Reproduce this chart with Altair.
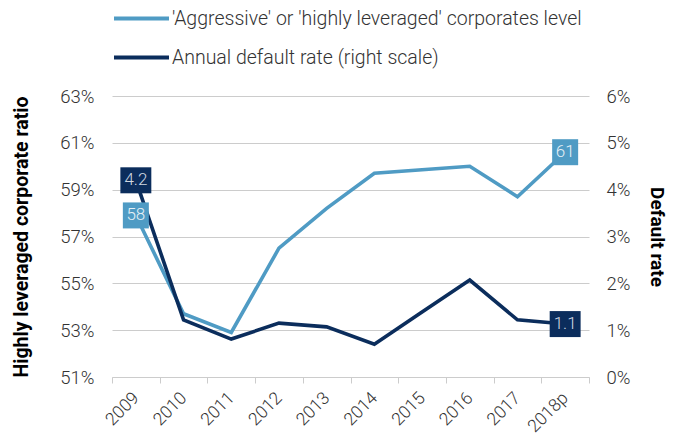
import altair as alt
import pandas as pd

years = ["2009", "2010", "2011", "2012", "2013", "2014", "2015", "2016", "2017", "2018p"]
aggressive = [57.9, 53.7, 52.9, 56.5, 58.2, 59.7, 59.85, 60.0, 58.7, 60.6]
default_rate = [4.2, 1.22, 0.81, 1.15, 1.07, 0.7, 1.39, 2.07, 1.22, 1.13]
series_names = ["'Aggressive' or 'highly leveraged' corporates level",
                "Annual default rate (right scale)"]
colors = ["#4f9bc4", "#0b2d5c"]
left_labels = ["58", "61"]
right_labels = ["4.2", "1.1"]

FONT = "Roboto"
LBL = 18.5

df_l = pd.DataFrame({"year": years, "value": aggressive, "series": series_names[0]})
df_r = pd.DataFrame({"year": years, "value": default_rate, "series": series_names[1]})
lab_l = pd.DataFrame({"year": [years[0], years[-1]], "value": [aggressive[0], aggressive[-1]], "label": left_labels})
lab_r = pd.DataFrame({"year": [years[0], years[-1]], "value": [default_rate[0], default_rate[-1]], "label": right_labels})

x_axis = alt.Axis(title=None, labelAngle=-45, labelAlign="right", labelBaseline="middle",
                  tickBand="extent", tickSize=6, tickColor="#cccccc", domainColor="#cccccc",
                  labelPadding=12, labelFontSize=17.5, labelColor="#333333", labelFont=FONT,
                  labelFontWeight=300, grid=False)
xenc = alt.X("year:N", sort=years, scale=alt.Scale(type="band", paddingInner=0, paddingOuter=0), axis=x_axis)

yl_scale = alt.Scale(domain=[51, 63], nice=False, zero=False)
yr_scale = alt.Scale(domain=[0, 6], nice=False, zero=False)

color = alt.Color("series:N", scale=alt.Scale(domain=series_names, range=colors),
                  legend=alt.Legend(title=None, orient="none", legendX=0, legendY=-107, direction="vertical",
                                    symbolType="stroke", symbolSize=3025, symbolStrokeWidth=4,
                                    labelFontSize=19.5, labelFont=FONT, labelFontWeight=300, labelColor="#333333",
                                    rowPadding=-5, labelOffset=1, labelLimit=600))

line_l = alt.Chart(df_l).mark_line(strokeWidth=3.6).encode(
    x=xenc,
    y=alt.Y("value:Q", scale=yl_scale,
            axis=alt.Axis(title="Highly leveraged corporate ratio", orient="left", values=[51, 53, 55, 57, 59, 61, 63],
                          labelExpr="datum.value + '%'", domain=False, ticks=False, labelPadding=18,
                          grid=True, gridColor="#cccccc", labelFontSize=LBL, labelFont=FONT, labelFontWeight=300,
                          labelColor="#333333", titleFont=FONT, titleFontSize=19.5, titleFontWeight="bold",
                          titleColor="#000000", titlePadding=28)),
    color=color,
)

line_r = alt.Chart(df_r).mark_line(strokeWidth=3.6).encode(
    x=xenc,
    y=alt.Y("value:Q", scale=yr_scale,
            axis=alt.Axis(title="Default rate", orient="right", values=[0, 1, 2, 3, 4, 5, 6],
                          labelExpr="datum.value + '%'", domain=False, ticks=False, labelPadding=17,
                          grid=False, labelFontSize=LBL, labelFont=FONT, labelFontWeight=300,
                          labelColor="#333333", titleFont=FONT, titleFontSize=19, titleFontWeight="bold",
                          titleColor="#000000", titlePadding=17, titleAngle=90)),
    color=color,
)

box_l = alt.Chart(lab_l).mark_point(shape="square", filled=True, size=676, opacity=1, color=colors[0]).encode(
    x=xenc, y=alt.Y("value:Q", scale=yl_scale, axis=None))
box_r = alt.Chart(lab_r).mark_point(shape="M-1.19,-1L1.19,-1L1.19,1L-1.19,1Z", filled=True, size=676,
                                    opacity=1, color=colors[1]).encode(
    x=xenc, y=alt.Y("value:Q", scale=yr_scale, axis=None))
text_l = alt.Chart(lab_l).mark_text(font=FONT, fontSize=17, fontWeight=300, color="#e6f0f6").encode(
    x=xenc, y=alt.Y("value:Q", scale=yl_scale, axis=None), text="label:N")
text_r = alt.Chart(lab_r).mark_text(font=FONT, fontSize=17, fontWeight=300, color="#d0d8e2").encode(
    x=xenc, y=alt.Y("value:Q", scale=yr_scale, axis=None), text="label:N")

chart = alt.layer(line_l, line_r, box_l, box_r, text_l, text_r).resolve_scale(
    y="independent"
).properties(
    width=477, height=281,
    autosize=alt.AutoSizeParams(type="none"),
    padding={"left": 104, "top": 88, "right": 84, "bottom": 58},
    background="white",
).configure_view(stroke=None)

chart.save("out.html", embed_options={"renderer": "svg", "actions": False})
